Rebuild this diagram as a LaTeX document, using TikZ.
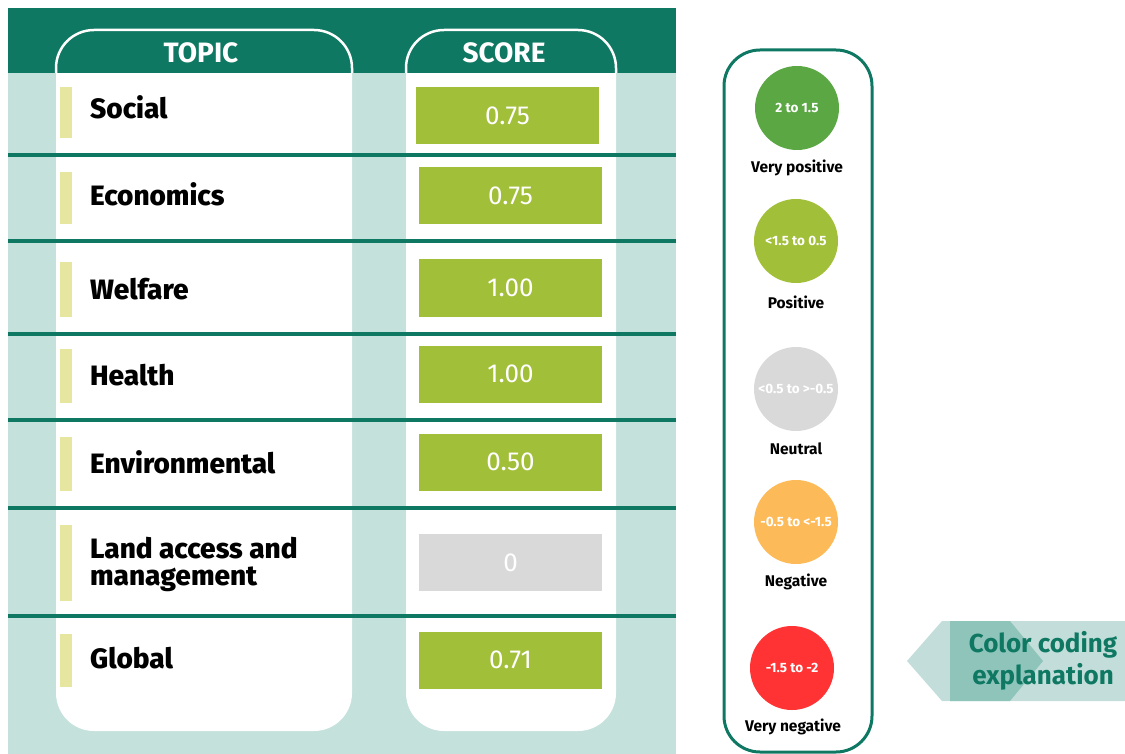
\documentclass[tikz,border=0pt]{standalone}
\usepackage{fontspec}
\setmainfont{Fira Sans}
\newfontfamily\heavyfont{Fira Sans ExtraBold}
\definecolor{darkteal}{RGB}{14,120,98}
\definecolor{lightteal}{RGB}{197,225,220}
\definecolor{scoregreen}{RGB}{162,191,57}
\definecolor{baryellow}{RGB}{230,230,161}
\definecolor{neutralgray}{RGB}{217,217,217}
\definecolor{verypos}{RGB}{91,167,68}
\definecolor{negorange}{RGB}{253,186,88}
\definecolor{veryneg}{RGB}{255,51,51}
\definecolor{arrowlight}{RGB}{195,222,218}
\definecolor{arrowdark}{RGB}{143,196,187}
\begin{document}
\begin{tikzpicture}[x=1pt,y=-1pt,
  topictext/.style={anchor=base west, inner sep=0pt, font=\heavyfont\fontsize{28}{28}\selectfont},
  headtext/.style={inner sep=0pt, text=white, font=\bfseries\fontsize{28}{28}\selectfont},
  scorebox/.style={rectangle, inner sep=0pt, minimum width=183pt, minimum height=57pt, fill=scoregreen, text=white, font=\fontsize{26}{26}\selectfont},
  bar/.style={fill=baryellow},
  rowline/.style={draw=darkteal, line width=3.5pt},
  legcircle/.style={circle, inner sep=0pt, minimum size=84pt, text=white, font=\bfseries\fontsize{13.5}{13.5}\selectfont},
  leglabel/.style={inner sep=0pt, font=\bfseries\fontsize{15.5}{15.5}\selectfont}
]
\useasboundingbox (0,0) rectangle (1125,754);
% table background
\fill[lightteal] (8,73) rectangle (676,754);
\fill[darkteal] (8,8) rectangle (676,73);
% topic column
\fill[white] (56,73) {[rounded corners=38pt] -- (56,731) -- (352,731)} -- (352,73) -- cycle;
\draw[white, line width=2.5pt, fill=darkteal] (56,73) {[rounded corners=38pt] -- (56,30) -- (352,30)} -- (352,73);
% score column
\fill[white] (406,73) {[rounded corners=38pt] -- (406,731) -- (616,731)} -- (616,73) -- cycle;
\draw[white, line width=2.5pt, fill=darkteal] (406,73) {[rounded corners=38pt] -- (406,30) -- (616,30)} -- (616,73);
\node[headtext] (htopic) at (201,53) {TOPIC};
\node[headtext] (hscore) at (504,53) {SCORE};
% row lines
\foreach \yy in {155,241,334,420,508,616} \draw[rowline] (8,\yy) -- (676,\yy);
% yellow bars
\fill[bar] (60,87) rectangle (72,138);
\fill[bar] (60,172) rectangle (72,224);
\fill[bar] (60,262) rectangle (72,317);
\fill[bar] (60,349) rectangle (72,403);
\fill[bar] (60,437) rectangle (72,491);
\fill[bar] (60,525) rectangle (72,601);
\fill[bar] (60,634) rectangle (72,687);
% topics
\node[topictext] (tsocial) at (90,119) {Social};
\node[topictext] (tecon) at (90,206) {Economics};
\node[topictext] (twelf) at (90,299) {Welfare};
\node[topictext] (thealth) at (90,385) {Health};
\node[topictext] (tenv) at (90,473) {Environmental};
\node[topictext] (tland1) at (90,558) {Land access and};
\node[topictext] (tland2) at (90,585) {management};
\node[topictext] (tglobal) at (90,668) {Global};
% scores
\node[scorebox] (ssocial) at (507.5,116) {0.75};
\node[scorebox] (secon) at (510.5,195.5) {0.75};
\node[scorebox] (swelf) at (510.5,288) {1.00};
\node[scorebox] (shealth) at (510.5,374) {1.00};
\node[scorebox] (senv) at (510.5,462) {0.50};
\node[scorebox, fill=neutralgray] (sland) at (510.5,562.5) {0};
\node[scorebox] (sglobal) at (510.5,660) {0.71};
% legend
\draw[darkteal, line width=3pt, rounded corners=36pt] (724,50) rectangle (872,752);
\node[legcircle, fill=verypos] (cvp) at (797,108) {2 to 1.5};
\node[leglabel] (lvp) at (797,168) {Very positive};
\node[legcircle, fill=scoregreen] (cp) at (796,241) {<1.5 to 0.5};
\node[leglabel] (lp) at (796,302) {Positive};
\node[legcircle, fill=neutralgray] (cn) at (796,389) {<0.5 to >-0.5};
\node[leglabel] (ln) at (796,449) {Neutral};
\node[legcircle, fill=negorange] (cneg) at (796,522) {-0.5 to <-1.5};
\node[leglabel] (lneg) at (796,582) {Negative};
\node[legcircle, fill=veryneg] (cvn) at (792,668) {-1.5 to -2};
\node[leglabel] (lvn) at (793,727) {Very negative};
% color coding arrow
\fill[arrowlight] (907,661) -- (942,621) -- (1125,621) -- (1125,701) -- (942,701) -- cycle;
\fill[arrowdark] (950,621) -- (1010,621) -- (1043,661) -- (1010,701) -- (950,701) -- cycle;
\node[inner sep=0pt, text=darkteal, align=center, font=\bfseries\fontsize{26}{32}\selectfont] (cce) at (1043,661) {Color coding\\explanation};
\end{tikzpicture}
\end{document}
